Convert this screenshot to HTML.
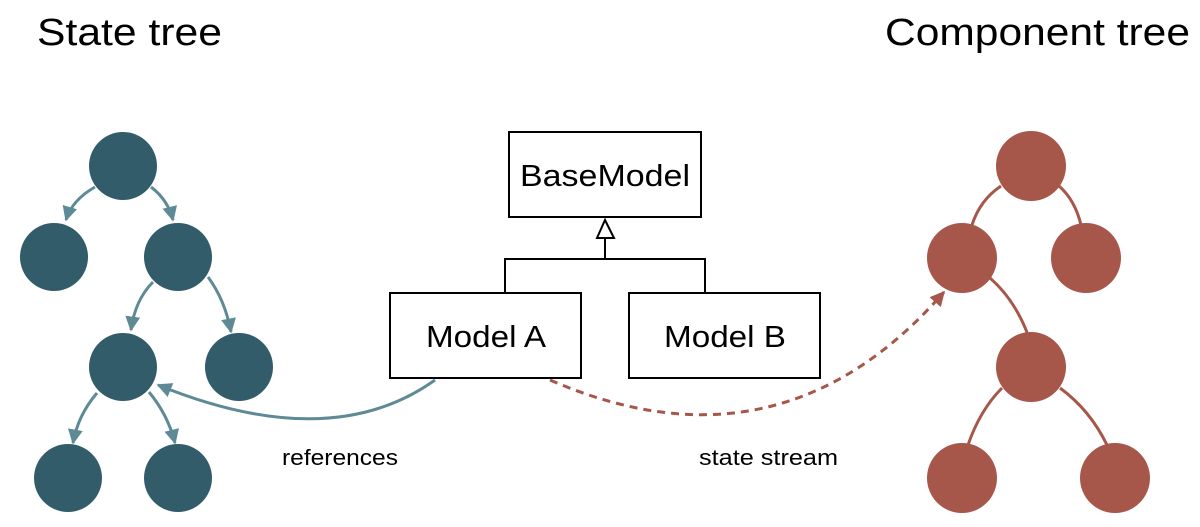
<!DOCTYPE html>
<html><head><meta charset="utf-8"><style>
html,body{margin:0;padding:0;background:#fff;}
svg{display:block;}
text{font-family:"Liberation Sans",sans-serif;}
</style></head><body>
<svg width="1200" height="527" viewBox="0 0 1200 527" xmlns="http://www.w3.org/2000/svg">
<defs>
<marker id="ta" viewBox="0 0 10 10" refX="9" refY="5" markerWidth="5" markerHeight="5" orient="auto"><path d="M0,0 L10,5 L0,10 z" fill="#5e8a95"/></marker>
<marker id="ra" viewBox="0 0 10 10" refX="9" refY="5" markerWidth="5" markerHeight="5" orient="auto"><path d="M0,0 L10,5 L0,10 z" fill="#a6574a"/></marker>
</defs>
<text x="37" y="45" font-size="38" textLength="185" lengthAdjust="spacingAndGlyphs" fill="#000">State tree</text>
<text x="885" y="45" font-size="38" textLength="305" lengthAdjust="spacingAndGlyphs" fill="#000">Component tree</text>

<!-- left tree edges -->
<g stroke="#5e8a95" stroke-width="3" fill="none">
<path d="M95,187 Q72,200 66,220" marker-end="url(#ta)"/>
<path d="M151,187 Q168,200 173,220" marker-end="url(#ta)"/>
<path d="M153,282 Q135,300 131,330" marker-end="url(#ta)"/>
<path d="M208,277 Q225,300 231,332" marker-end="url(#ta)"/>
<path d="M97,393 Q78,415 73,443" marker-end="url(#ta)"/>
<path d="M149,392 Q168,415 175,443" marker-end="url(#ta)"/>
<path d="M435,380 Q330,455 158,385" marker-end="url(#ta)"/>
</g>
<g fill="#325c69">
<circle cx="123" cy="166" r="34"/>
<circle cx="54" cy="257" r="34"/>
<circle cx="178" cy="257" r="34"/>
<circle cx="123" cy="367" r="34"/>
<circle cx="239" cy="367" r="34"/>
<circle cx="68" cy="478" r="34"/>
<circle cx="178" cy="478" r="34"/>
</g>

<!-- right tree edges -->
<g stroke="#a6574a" stroke-width="3" fill="none">
<path d="M1001,186 Q980,200 972,225"/>
<path d="M1059,186 Q1075,200 1081,225"/>
<path d="M990,278 Q1015,300 1028,335"/>
<path d="M1002,388 Q980,410 968,445"/>
<path d="M1060,388 Q1090,410 1107,445"/>
<path d="M550,380 Q780,480 944,292" stroke-dasharray="8,6" marker-end="url(#ra)"/>
</g>
<g fill="#a6574a">
<circle cx="1031" cy="166" r="35"/>
<circle cx="962" cy="258" r="35"/>
<circle cx="1086" cy="258" r="35"/>
<circle cx="1031" cy="367" r="35"/>
<circle cx="962" cy="478" r="35"/>
<circle cx="1115" cy="478" r="35"/>
</g>

<!-- UML -->
<g stroke="#000" stroke-width="2" fill="#fff">
<rect x="509" y="132" width="192" height="85"/>
<rect x="390" y="293" width="191" height="85"/>
<rect x="629" y="293" width="191" height="85"/>
<path d="M605,238 L605,259 M505,293 L505,259 L705,259 L705,293" fill="none"/>
<path d="M605,220 L597,238 L614,238 z"/>
</g>
<text x="520" y="186" font-size="31" textLength="170" lengthAdjust="spacingAndGlyphs">BaseModel</text>
<text x="426" y="347" font-size="31" textLength="120" lengthAdjust="spacingAndGlyphs">Model A</text>
<text x="664" y="347" font-size="31" textLength="122" lengthAdjust="spacingAndGlyphs">Model B</text>
<text x="282" y="465" font-size="22" textLength="116" lengthAdjust="spacingAndGlyphs">references</text>
<text x="699" y="465" font-size="22" textLength="139" lengthAdjust="spacingAndGlyphs">state stream</text>
</svg>
</body></html>
